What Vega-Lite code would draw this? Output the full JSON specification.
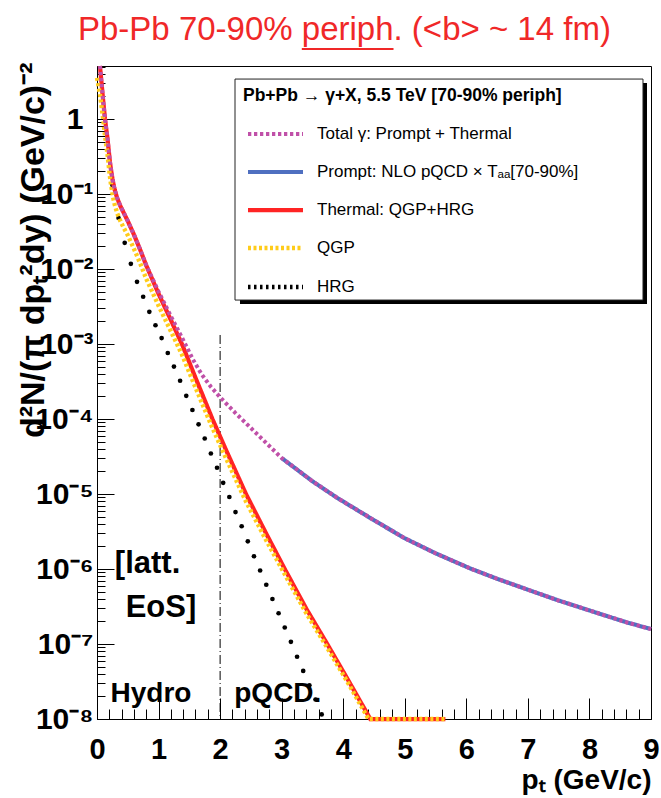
{
  "$schema": "https://vega.github.io/schema/vega-lite/v6.json",
  "width": 554,
  "height": 653,
  "autosize": {"type": "none"},
  "padding": {"left": 97, "top": 66, "right": 10, "bottom": 79},
  "background": "white",
  "title": {
    "text": "Pb-Pb 70-90% periph. (<b> ~ 14 fm)",
    "anchor": "start", "frame": "group", "dx": -19, "offset": -25,
    "baseline": "alphabetic", "font": "Liberation Sans", "fontSize": 33,
    "fontWeight": "normal", "color": "#f02828"
  },
  "config": {
    "view": {"stroke": "black", "strokeWidth": 1},
    "legend": {
      "labelFont": "Liberation Sans", "labelFontSize": 17, "labelColor": "black",
      "titleFont": "Liberation Sans", "titleFontSize": 17.5, "titleFontWeight": "bold", "titleColor": "black",
      "padding": 8,
      "symbolType": "M-1,0H9", "symbolSize": 121, "symbolOffset": 2, "labelOffset": 55,
      "rowPadding": 20, "titlePadding": 21, "labelLimit": 500, "titleLimit": 600
    }
  },
  "datasets": {
    "hrg": [
      {"pT": 0.25, "v": 0.132}, {"pT": 0.35, "v": 0.0479}, {"pT": 0.45, "v": 0.0224}, {"pT": 0.55, "v": 0.01175},
      {"pT": 0.65, "v": 0.00676}, {"pT": 0.75, "v": 0.00427}, {"pT": 0.85, "v": 0.00269}, {"pT": 0.95, "v": 0.00178},
      {"pT": 1.05, "v": 0.0012}, {"pT": 1.15, "v": 0.000759}, {"pT": 1.25, "v": 0.000501}, {"pT": 1.35, "v": 0.000324},
      {"pT": 1.45, "v": 0.000204}, {"pT": 1.55, "v": 0.000132}, {"pT": 1.65, "v": 8.51e-5}, {"pT": 1.75, "v": 5.5e-5},
      {"pT": 1.85, "v": 3.47e-5}, {"pT": 1.95, "v": 2.24e-5}, {"pT": 2.05, "v": 1.41e-5}, {"pT": 2.15, "v": 9.12e-6},
      {"pT": 2.25, "v": 5.75e-6}, {"pT": 2.35, "v": 3.72e-6}, {"pT": 2.45, "v": 2.34e-6}, {"pT": 2.55, "v": 1.48e-6},
      {"pT": 2.65, "v": 9.55e-7}, {"pT": 2.75, "v": 6.17e-7}, {"pT": 2.85, "v": 3.98e-7}, {"pT": 2.95, "v": 2.57e-7},
      {"pT": 3.05, "v": 1.66e-7}, {"pT": 3.15, "v": 1.07e-7}, {"pT": 3.25, "v": 6.76e-8}, {"pT": 3.35, "v": 4.37e-8},
      {"pT": 3.45, "v": 2.82e-8}, {"pT": 3.55, "v": 1.82e-8}, {"pT": 3.65, "v": 1.15e-8}
    ],
    "thermal": [
      {"series": "Thermal: QGP+HRG", "pT": 0.048, "v": 5.1}, {"series": "Thermal: QGP+HRG", "pT": 0.1, "v": 1.78},
      {"series": "Thermal: QGP+HRG", "pT": 0.13, "v": 1.0}, {"series": "Thermal: QGP+HRG", "pT": 0.17, "v": 0.55},
      {"series": "Thermal: QGP+HRG", "pT": 0.21, "v": 0.269}, {"series": "Thermal: QGP+HRG", "pT": 0.23, "v": 0.205},
      {"series": "Thermal: QGP+HRG", "pT": 0.25, "v": 0.162}, {"series": "Thermal: QGP+HRG", "pT": 0.27, "v": 0.132},
      {"series": "Thermal: QGP+HRG", "pT": 0.29, "v": 0.112}, {"series": "Thermal: QGP+HRG", "pT": 0.33, "v": 0.0871},
      {"series": "Thermal: QGP+HRG", "pT": 0.38, "v": 0.0692}, {"series": "Thermal: QGP+HRG", "pT": 0.44, "v": 0.055},
      {"series": "Thermal: QGP+HRG", "pT": 0.5, "v": 0.0437}, {"series": "Thermal: QGP+HRG", "pT": 0.6, "v": 0.0288},
      {"series": "Thermal: QGP+HRG", "pT": 0.7, "v": 0.0182}, {"series": "Thermal: QGP+HRG", "pT": 0.8, "v": 0.0112},
      {"series": "Thermal: QGP+HRG", "pT": 1.0, "v": 0.00468}, {"series": "Thermal: QGP+HRG", "pT": 1.2, "v": 0.00209},
      {"series": "Thermal: QGP+HRG", "pT": 1.38, "v": 0.001}, {"series": "Thermal: QGP+HRG", "pT": 1.6, "v": 0.000355},
      {"series": "Thermal: QGP+HRG", "pT": 1.875, "v": 0.0001}, {"series": "Thermal: QGP+HRG", "pT": 2.1, "v": 3.8e-5},
      {"series": "Thermal: QGP+HRG", "pT": 2.42, "v": 1e-5}, {"series": "Thermal: QGP+HRG", "pT": 2.75, "v": 2.95e-6},
      {"series": "Thermal: QGP+HRG", "pT": 3.05, "v": 1e-6}, {"series": "Thermal: QGP+HRG", "pT": 3.4, "v": 2.95e-7},
      {"series": "Thermal: QGP+HRG", "pT": 3.74, "v": 1e-7}, {"series": "Thermal: QGP+HRG", "pT": 4.1, "v": 3.09e-8},
      {"series": "Thermal: QGP+HRG", "pT": 4.44, "v": 1e-8}, {"series": "Thermal: QGP+HRG", "pT": 4.8, "v": 1e-8},
      {"series": "Thermal: QGP+HRG", "pT": 5.2, "v": 1e-8}, {"series": "Thermal: QGP+HRG", "pT": 5.66, "v": 1e-8}
    ],
    "qgp": [
      {"series": "QGP", "pT": 0.0, "v": 3.55}, {"series": "QGP", "pT": 0.05, "v": 2.09}, {"series": "QGP", "pT": 0.1, "v": 1.0},
      {"series": "QGP", "pT": 0.13, "v": 0.6}, {"series": "QGP", "pT": 0.17, "v": 0.339}, {"series": "QGP", "pT": 0.21, "v": 0.17},
      {"series": "QGP", "pT": 0.23, "v": 0.129}, {"series": "QGP", "pT": 0.25, "v": 0.102}, {"series": "QGP", "pT": 0.27, "v": 0.0832},
      {"series": "QGP", "pT": 0.29, "v": 0.0708}, {"series": "QGP", "pT": 0.33, "v": 0.055},
      {"series": "QGP", "pT": 0.38, "v": 0.0437}, {"series": "QGP", "pT": 0.44, "v": 0.0347}, {"series": "QGP", "pT": 0.5, "v": 0.0282},
      {"series": "QGP", "pT": 0.6, "v": 0.0186}, {"series": "QGP", "pT": 0.7, "v": 0.012}, {"series": "QGP", "pT": 0.8, "v": 0.0074},
      {"series": "QGP", "pT": 1.0, "v": 0.00324}, {"series": "QGP", "pT": 1.2, "v": 0.00148}, {"series": "QGP", "pT": 1.38, "v": 0.000724},
      {"series": "QGP", "pT": 1.6, "v": 0.000263}, {"series": "QGP", "pT": 1.875, "v": 7.59e-5}, {"series": "QGP", "pT": 2.1, "v": 2.95e-5},
      {"series": "QGP", "pT": 2.42, "v": 7.94e-6}, {"series": "QGP", "pT": 2.75, "v": 2.4e-6}, {"series": "QGP", "pT": 3.05, "v": 8.51e-7},
      {"series": "QGP", "pT": 3.4, "v": 2.57e-7}, {"series": "QGP", "pT": 3.74, "v": 8.91e-8}, {"series": "QGP", "pT": 4.1, "v": 2.82e-8},
      {"series": "QGP", "pT": 4.41, "v": 1e-8}, {"series": "QGP", "pT": 4.8, "v": 1e-8}, {"series": "QGP", "pT": 5.2, "v": 1e-8},
      {"series": "QGP", "pT": 5.66, "v": 1e-8}
    ],
    "prompt": [
      {"series": "Prompt: NLO pQCD × Tₐₐ[70-90%]", "pT": 3.0, "v": 3.02e-5}, {"series": "Prompt: NLO pQCD × Tₐₐ[70-90%]", "pT": 3.5, "v": 1.48e-5},
      {"series": "Prompt: NLO pQCD × Tₐₐ[70-90%]", "pT": 3.9, "v": 8.91e-6}, {"series": "Prompt: NLO pQCD × Tₐₐ[70-90%]", "pT": 4.5, "v": 4.47e-6},
      {"series": "Prompt: NLO pQCD × Tₐₐ[70-90%]", "pT": 5.0, "v": 2.57e-6}, {"series": "Prompt: NLO pQCD × Tₐₐ[70-90%]", "pT": 5.5, "v": 1.62e-6},
      {"series": "Prompt: NLO pQCD × Tₐₐ[70-90%]", "pT": 6.06, "v": 1.02e-6}, {"series": "Prompt: NLO pQCD × Tₐₐ[70-90%]", "pT": 6.5, "v": 7.41e-7},
      {"series": "Prompt: NLO pQCD × Tₐₐ[70-90%]", "pT": 7.15, "v": 4.79e-7}, {"series": "Prompt: NLO pQCD × Tₐₐ[70-90%]", "pT": 7.5, "v": 3.8e-7},
      {"series": "Prompt: NLO pQCD × Tₐₐ[70-90%]", "pT": 8.22, "v": 2.45e-7}, {"series": "Prompt: NLO pQCD × Tₐₐ[70-90%]", "pT": 8.6, "v": 1.95e-7},
      {"series": "Prompt: NLO pQCD × Tₐₐ[70-90%]", "pT": 9.0, "v": 1.58e-7}
    ],
    "total": [
      {"series": "Total γ: Prompt + Thermal", "pT": 0.048, "v": 5.1}, {"series": "Total γ: Prompt + Thermal", "pT": 0.1, "v": 1.78},
      {"series": "Total γ: Prompt + Thermal", "pT": 0.13, "v": 1.0}, {"series": "Total γ: Prompt + Thermal", "pT": 0.17, "v": 0.55},
      {"series": "Total γ: Prompt + Thermal", "pT": 0.21, "v": 0.269}, {"series": "Total γ: Prompt + Thermal", "pT": 0.23, "v": 0.205},
      {"series": "Total γ: Prompt + Thermal", "pT": 0.25, "v": 0.162}, {"series": "Total γ: Prompt + Thermal", "pT": 0.27, "v": 0.132},
      {"series": "Total γ: Prompt + Thermal", "pT": 0.29, "v": 0.112}, {"series": "Total γ: Prompt + Thermal", "pT": 0.33, "v": 0.0871},
      {"series": "Total γ: Prompt + Thermal", "pT": 0.38, "v": 0.0692}, {"series": "Total γ: Prompt + Thermal", "pT": 0.44, "v": 0.055},
      {"series": "Total γ: Prompt + Thermal", "pT": 0.5, "v": 0.0437}, {"series": "Total γ: Prompt + Thermal", "pT": 0.6, "v": 0.0288},
      {"series": "Total γ: Prompt + Thermal", "pT": 0.7, "v": 0.0182}, {"series": "Total γ: Prompt + Thermal", "pT": 0.8, "v": 0.0112},
      {"series": "Total γ: Prompt + Thermal", "pT": 1.0, "v": 0.005}, {"series": "Total γ: Prompt + Thermal", "pT": 1.2, "v": 0.00235},
      {"series": "Total γ: Prompt + Thermal", "pT": 1.38, "v": 0.00122}, {"series": "Total γ: Prompt + Thermal", "pT": 1.56, "v": 0.00062},
      {"series": "Total γ: Prompt + Thermal", "pT": 1.7, "v": 0.000394}, {"series": "Total γ: Prompt + Thermal", "pT": 1.85, "v": 0.000269},
      {"series": "Total γ: Prompt + Thermal", "pT": 2.0, "v": 0.000195}, {"series": "Total γ: Prompt + Thermal", "pT": 2.25, "v": 0.00012},
      {"series": "Total γ: Prompt + Thermal", "pT": 2.5, "v": 7.59e-5}, {"series": "Total γ: Prompt + Thermal", "pT": 2.75, "v": 4.79e-5},
      {"series": "Total γ: Prompt + Thermal", "pT": 3.0, "v": 3.02e-5}, {"series": "Total γ: Prompt + Thermal", "pT": 3.5, "v": 1.48e-5},
      {"series": "Total γ: Prompt + Thermal", "pT": 3.9, "v": 8.91e-6}, {"series": "Total γ: Prompt + Thermal", "pT": 4.5, "v": 4.47e-6},
      {"series": "Total γ: Prompt + Thermal", "pT": 5.0, "v": 2.57e-6}, {"series": "Total γ: Prompt + Thermal", "pT": 5.5, "v": 1.62e-6},
      {"series": "Total γ: Prompt + Thermal", "pT": 6.06, "v": 1.02e-6}, {"series": "Total γ: Prompt + Thermal", "pT": 6.5, "v": 7.41e-7},
      {"series": "Total γ: Prompt + Thermal", "pT": 7.15, "v": 4.79e-7}, {"series": "Total γ: Prompt + Thermal", "pT": 7.5, "v": 3.8e-7},
      {"series": "Total γ: Prompt + Thermal", "pT": 8.22, "v": 2.45e-7}, {"series": "Total γ: Prompt + Thermal", "pT": 8.6, "v": 1.95e-7},
      {"series": "Total γ: Prompt + Thermal", "pT": 9.0, "v": 1.58e-7}
    ],
    "shadow": [{"pT": 2.323, "pT2": 8.935, "v": 3.02, "v2": 0.00341}],
    "legendBox": [{"pT": 2.242, "pT2": 8.87, "v": 3.415, "v2": 0.00386}],
    "divider": [{"pT": 2, "v": 0.00132, "v2": 1e-8}],
    "underline": [{"pT": 3.327, "pT2": 4.817, "v": 8.6}],
    "notesBig": [{"pT": 0.29, "v": 8.9e-7, "label": "[latt."}, {"pT": 0.466, "v": 2.27e-7, "label": "EoS]"}],
    "notesSmall": [{"pT": 0.22, "v": 1.7e-8, "label": "Hydro"}, {"pT": 2.23, "v": 1.7e-8, "label": "pQCD."}]
  },
  "encoding": {
    "x": {
      "field": "pT", "type": "quantitative", "title": "pₜ (GeV/c)",
      "scale": {"domain": [0, 9], "nice": false, "zero": false},
      "axis": {
        "values": [0,0.2,0.4,0.6,0.8,1,1.2,1.4,1.6,1.8,2,2.2,2.4,2.6,2.8,3,3.2,3.4,3.6,3.8,4,4.2,4.4,4.6,4.8,5,5.2,5.4,5.6,5.8,6,6.2,6.4,6.6,6.8,7,7.2,7.4,7.6,7.8,8,8.2,8.4,8.6,8.8,9],
        "labelExpr": "datum.value % 1 == 0 ? format(datum.value, 'd') : ''",
        "tickSize": {"condition": {"test": "datum.value % 1 == 0", "value": -21}, "value": -10},
        "labelPadding": 37, "labelFontSize": 29, "labelFontWeight": "bold", "labelFont": "Liberation Sans",
        "labelColor": "black", "tickColor": "black", "domainColor": "black", "labelOverlap": false,
        "labelFlush": false, "labelBound": false, "grid": false,
        "titleX": 554, "titleY": 69, "titleAlign": "right", "titleBaseline": "alphabetic",
        "titleFontSize": 28, "titleFontWeight": "bold", "titleFont": "Liberation Sans", "titleColor": "black"
      }
    },
    "y": {
      "field": "v", "type": "quantitative", "title": "d²N/(π dpₜ²dy) (GeV/c)⁻²",
      "scale": {"type": "log", "domain": [1e-8, 5.1], "nice": false},
      "axis": {
        "values": [1e-8,2e-8,3e-8,4e-8,5e-8,6e-8,7e-8,8e-8,9e-8,1e-7,2e-7,3e-7,4e-7,5e-7,6e-7,7e-7,8e-7,9e-7,1e-6,2e-6,3e-6,4e-6,5e-6,6e-6,7e-6,8e-6,9e-6,1e-5,2e-5,3e-5,4e-5,5e-5,6e-5,7e-5,8e-5,9e-5,0.0001,0.0002,0.0003,0.0004,0.0005,0.0006,0.0007,0.0008,0.0009,0.001,0.002,0.003,0.004,0.005,0.006,0.007,0.008,0.009,0.01,0.02,0.03,0.04,0.05,0.06,0.07,0.08,0.09,0.1,0.2,0.3,0.4,0.5,0.6,0.7,0.8,0.9,1,2,3,4,5],
        "labelExpr": "datum.value == 1 ? '1' : datum.value == 0.1 ? '10⁻¹' : datum.value == 0.01 ? '10⁻²' : datum.value == 0.001 ? '10⁻³' : datum.value == 0.0001 ? '10⁻⁴' : datum.value == 0.00001 ? '10⁻⁵' : datum.value == 0.000001 ? '10⁻⁶' : datum.value == 1e-7 ? '10⁻⁷' : datum.value == 1e-8 ? '10⁻⁸' : ''",
        "tickSize": {"condition": {"test": "indexof([1e-8,1e-7,1e-6,1e-5,0.0001,0.001,0.01,0.1,1], datum.value) >= 0", "value": -17}, "value": -8},
        "labelPadding": {"condition": {"test": "datum.value == 1", "value": 31}, "value": 21},
        "labelFontSize": 30, "labelFontWeight": "bold", "labelFont": "Liberation Sans", "labelColor": "black",
        "tickColor": "black", "domainColor": "black", "labelOverlap": false, "labelFlush": false, "labelBound": false, "grid": false,
        "titleX": -64, "titleY": -4, "titleAngle": 270, "titleAlign": "right", "titleBaseline": "middle",
        "titleFontSize": 34, "titleFontWeight": "bold", "titleFont": "Liberation Sans", "titleColor": "black"
      }
    }
  },
  "layer": [
    {
      "data": {"name": "shadow"},
      "mark": {"type": "rect", "color": "black"},
      "encoding": {"x2": {"field": "pT2"}, "y2": {"field": "v2"}}
    },
    {
      "data": {"name": "legendBox"},
      "mark": {"type": "rect", "fill": "white", "stroke": "#222", "strokeWidth": 1},
      "encoding": {"x2": {"field": "pT2"}, "y2": {"field": "v2"}}
    },
    {
      "data": {"name": "divider"},
      "mark": {"type": "rule", "color": "black", "strokeWidth": 1, "strokeDash": [9, 3, 1, 3]},
      "encoding": {"y2": {"field": "v2"}}
    },
    {
      "data": {"name": "hrg"},
      "mark": {"type": "circle", "color": "black", "size": 22, "opacity": 1}
    },
    {
      "encoding": {
        "color": {
          "field": "series", "type": "nominal",
          "scale": {
            "domain": ["Total γ: Prompt + Thermal", "Prompt: NLO pQCD × Tₐₐ[70-90%]", "Thermal: QGP+HRG", "QGP", "HRG"],
            "range": ["#c050a8", "#4f6fc0", "#ff2424", "#ffcc1a", "#000000"]
          },
          "legend": {
            "title": "Pb+Pb → γ+X, 5.5 TeV [70-90% periph]",
            "orient": "none", "legendX": 138, "legendY": 13
          }
        },
        "strokeDash": {
          "field": "series", "type": "nominal",
          "scale": {
            "domain": ["Total γ: Prompt + Thermal", "Prompt: NLO pQCD × Tₐₐ[70-90%]", "Thermal: QGP+HRG", "QGP", "HRG"],
            "range": [[3.3, 2.7], [1, 0], [1, 0], [3, 2.5], [2.5, 3.5]]
          }
        },
        "strokeWidth": {
          "field": "series", "type": "nominal",
          "scale": {
            "domain": ["Total γ: Prompt + Thermal", "Prompt: NLO pQCD × Tₐₐ[70-90%]", "Thermal: QGP+HRG", "QGP", "HRG"],
            "range": [4, 4.5, 4, 4.5, 2.5]
          }
        }
      },
      "layer": [
        {"data": {"name": "prompt"}, "mark": {"type": "line"}},
        {"data": {"name": "thermal"}, "mark": {"type": "line"}},
        {"data": {"name": "qgp"}, "mark": {"type": "line"}},
        {"data": {"name": "total"}, "mark": {"type": "line"}}
      ]
    },
    {
      "data": {"name": "notesBig"},
      "mark": {"type": "text", "align": "left", "baseline": "alphabetic", "font": "Liberation Sans", "fontSize": 31, "fontWeight": "bold", "color": "black"},
      "encoding": {"text": {"field": "label"}}
    },
    {
      "data": {"name": "notesSmall"},
      "mark": {"type": "text", "align": "left", "baseline": "alphabetic", "font": "Liberation Sans", "fontSize": 28, "fontWeight": "bold", "color": "black"},
      "encoding": {"text": {"field": "label"}}
    },
    {
      "data": {"name": "underline"},
      "mark": {"type": "rule", "color": "#f02828", "strokeWidth": 2},
      "encoding": {"x2": {"field": "pT2"}}
    }
  ]
}
